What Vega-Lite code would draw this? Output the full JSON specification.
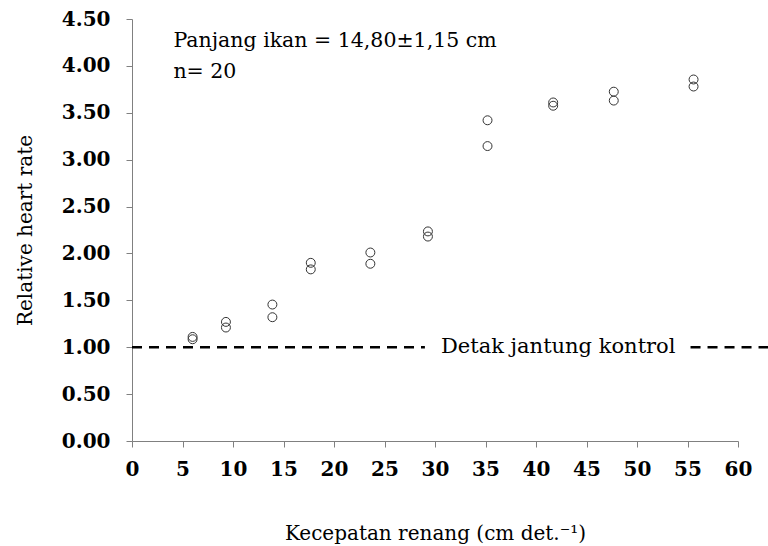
{
  "$schema": "https://vega.github.io/schema/vega-lite/v6.json",
  "autosize": "none",
  "width": 606,
  "height": 422,
  "padding": {"left": 132, "top": 19, "right": 30, "bottom": 105},
  "background": "white",
  "config": {
    "view": {"stroke": null},
    "font": "DejaVu Serif"
  },
  "datasets": {
    "pts": [
      {"speed": 6.0, "rate": 1.11},
      {"speed": 6.0, "rate": 1.085},
      {"speed": 9.3, "rate": 1.27},
      {"speed": 9.3, "rate": 1.21},
      {"speed": 13.9, "rate": 1.455},
      {"speed": 13.9, "rate": 1.32},
      {"speed": 17.7, "rate": 1.90},
      {"speed": 17.7, "rate": 1.83},
      {"speed": 23.6, "rate": 2.01},
      {"speed": 23.6, "rate": 1.89},
      {"speed": 29.3, "rate": 2.235},
      {"speed": 29.3, "rate": 2.18},
      {"speed": 35.2, "rate": 3.42},
      {"speed": 35.2, "rate": 3.145},
      {"speed": 41.7, "rate": 3.61},
      {"speed": 41.7, "rate": 3.575},
      {"speed": 47.7, "rate": 3.725},
      {"speed": 47.7, "rate": 3.63},
      {"speed": 55.6, "rate": 3.855},
      {"speed": 55.6, "rate": 3.78}
    ],
    "ctrl": [
      {"from": 0, "to": 29.0, "level": 1.0},
      {"from": 55.3, "to": 63.2, "level": 1.0}
    ],
    "notes": [
      {"x": 4.1, "y": 4.2, "label": "Panjang ikan = 14,80±1,15 cm"},
      {"x": 4.1, "y": 3.87, "label": "n= 20"}
    ],
    "ctrlLabel": [
      {"x": 42.2, "y": 1.0, "label": "Detak jantung kontrol"}
    ]
  },
  "layer": [
    {
      "data": {"name": "ctrl"},
      "mark": {"type": "rule", "strokeDash": [10, 7], "strokeWidth": 2.5, "color": "black"},
      "encoding": {
        "x": {"field": "from", "type": "quantitative", "scale": {"domain": [0, 60]}},
        "x2": {"field": "to"},
        "y": {"field": "level", "type": "quantitative", "scale": {"domain": [0, 4.5]}}
      }
    },
    {
      "data": {"name": "pts"},
      "mark": {"type": "point", "shape": "circle", "filled": false, "size": 80, "stroke": "#333333", "strokeWidth": 1, "opacity": 1},
      "encoding": {
        "x": {
          "field": "speed", "type": "quantitative",
          "scale": {"domain": [0, 60], "nice": false, "zero": true},
          "axis": {
            "title": "Kecepatan renang (cm det.⁻¹)",
            "values": [0, 5, 10, 15, 20, 25, 30, 35, 40, 45, 50, 55, 60],
            "grid": false,
            "domainColor": "#808080",
            "tickColor": "#808080",
            "tickSize": 6,
            "labelFont": "DejaVu Serif",
            "labelFontWeight": "bold",
            "labelFontSize": 20,
            "labelColor": "black",
            "labelPadding": 12,
            "labelFlush": false,
            "titleFont": "DejaVu Serif",
            "titleFontWeight": "normal",
            "titleFontSize": 20,
            "titleColor": "black",
            "titlePadding": 44
          }
        },
        "y": {
          "field": "rate", "type": "quantitative",
          "scale": {"domain": [0, 4.5], "nice": false},
          "axis": {
            "title": "Relative heart rate",
            "values": [0, 0.5, 1, 1.5, 2, 2.5, 3, 3.5, 4, 4.5],
            "format": ".2f",
            "grid": false,
            "domainColor": "#808080",
            "tickColor": "#808080",
            "tickSize": 6,
            "labelFont": "DejaVu Serif",
            "labelFontWeight": "bold",
            "labelFontSize": 20,
            "labelColor": "black",
            "labelPadding": 16,
            "labelFlush": false,
            "titleFont": "DejaVu Serif",
            "titleFontWeight": "normal",
            "titleFontSize": 20,
            "titleColor": "black",
            "titlePadding": 26
          }
        }
      }
    },
    {
      "data": {"name": "notes"},
      "mark": {"type": "text", "align": "left", "baseline": "alphabetic", "font": "DejaVu Serif", "fontSize": 20.5, "color": "black"},
      "encoding": {
        "x": {"field": "x", "type": "quantitative"},
        "y": {"field": "y", "type": "quantitative"},
        "text": {"field": "label"}
      }
    },
    {
      "data": {"name": "ctrlLabel"},
      "mark": {"type": "text", "align": "center", "baseline": "middle", "font": "DejaVu Serif", "fontSize": 21, "color": "black"},
      "encoding": {
        "x": {"field": "x", "type": "quantitative"},
        "y": {"field": "y", "type": "quantitative"},
        "text": {"field": "label"}
      }
    }
  ]
}
